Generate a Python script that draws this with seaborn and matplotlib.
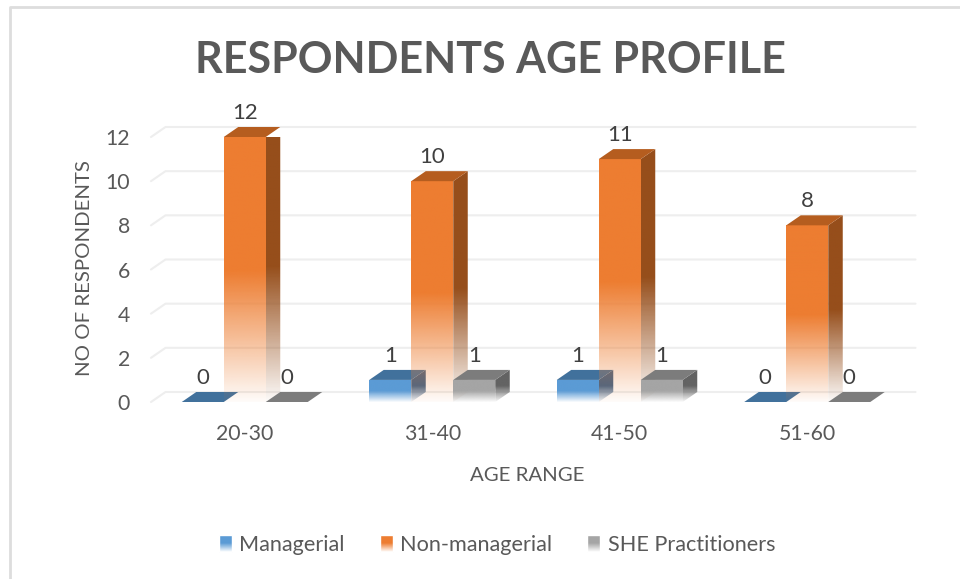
import numpy as np
import pandas as pd
import matplotlib
matplotlib.use('Agg')
import matplotlib.pyplot as plt
from matplotlib.image import BboxImage
from matplotlib.lines import Line2D
from matplotlib.patches import Patch, Polygon
from matplotlib.colors import to_rgb
import seaborn as sns

age_ranges = ['20-30', '31-40', '41-50', '51-60']
managerial = [0, 1, 1, 0]
non_managerial = [12, 10, 11, 8]
she_practitioners = [0, 1, 1, 0]
series_names = ['Managerial', 'Non-managerial', 'SHE Practitioners']
y_ticks = [0, 2, 4, 6, 8, 10, 12]

front_colors = ['#5B9BD5', '#ED7D31', '#A5A5A5']
top_colors = ['#41719C', '#B55D1F', '#7C7C7C']
side_colors = ['#3F6388', '#964E1B', '#636363']

df = pd.DataFrame({
    'age': age_ranges * 3,
    'series': np.repeat(series_names, 4),
    'count': managerial + non_managerial + she_practitioners,
})

sns.set_theme(style='white')
plt.rcParams['font.family'] = ['Lato', 'DejaVu Sans']

W, H = 960, 579
fig = plt.figure(figsize=(W / 100, H / 100), dpi=100)
ax = fig.add_axes([151 / W, (H - 402) / H, 750 / W, 265 / H])
ax.patch.set_alpha(0)

sns.barplot(data=df, x='age', y='count', hue='series', hue_order=series_names,
            palette=front_colors, width=0.672, gap=0, legend=False, ax=ax)
ax.set_xlim(-0.5, 3.5)
ax.set_ylim(0, 12)

# depth of the fake 3d boxes in data units
DX = 14.5 / 187.5
DY = 10 / 22.08

for y in y_ticks:
    ax.plot([-0.5, -0.5 + DX, 3.5 + DX], [y, y + DY, y + DY], color='#EEEEEE',
            lw=1.5, clip_on=False, zorder=1)


def fade(color, size=200):
    # solid in the upper half, nearly gone at the bottom
    a = np.clip(np.linspace(2.0, 0.03, size), 0.03, 1.0)
    img = np.ones((size, 1, 4))
    img[:, :, :3] = to_rgb(color)
    img[:, 0, 3] = a
    return img


for i, cont in enumerate(ax.containers):
    z = 3 + i
    for bar in cont:
        x0, w, h = bar.get_x(), bar.get_width(), bar.get_height()
        x1 = x0 + w
        bar.set_facecolor('none')
        bar.set_edgecolor('none')
        bar.set_zorder(z)
        if h > 0:
            im = ax.imshow(fade(front_colors[i]), extent=(x0, x1, 0, h), aspect='auto', zorder=z)
            im.set_clip_path(bar)
            side = Polygon([(x1, 0), (x1 + DX, DY), (x1 + DX, h + DY), (x1, h)],
                           facecolor='none', edgecolor='none', clip_on=False)
            ax.add_patch(side)
            im2 = ax.imshow(fade(side_colors[i]), extent=(x1, x1 + DX, 0, h + DY), aspect='auto', zorder=z)
            im2.set_clip_path(side)
        ax.add_patch(Polygon([(x0, h), (x1, h), (x1 + DX, h + DY), (x0 + DX, h + DY)],
                             facecolor=top_colors[i], edgecolor='none', clip_on=False, zorder=z))
    ax.bar_label(cont, padding=10, fontsize=16, color='#404040', zorder=10)

ax.set_xlim(-0.5, 3.5)
ax.set_ylim(0, 12)
sns.despine(ax=ax, left=True, bottom=True)

ax.set_yticks(y_ticks)
ax.set_xticks(range(4), age_ranges)
ax.tick_params(axis='y', length=0, pad=15, labelsize=15.3, labelcolor='#595959')
ax.tick_params(axis='x', length=0, pad=16, labelsize=15.3, labelcolor='#595959')
ax.set_xlabel('AGE RANGE', fontsize=14.7, color='#595959')
ax.set_ylabel('NO OF RESPONDENTS', fontsize=14.7, color='#595959')
ax.xaxis.set_label_coords(0.501, -0.245)
ax.yaxis.set_label_coords(-0.078, 0.505)

fig.text(490 / W, 1 - 60 / H, 'RESPONDENTS AGE PROFILE', ha='center', va='center',
         fontsize=31, fontweight='bold', color='#595959')

handles = [Patch(facecolor=c, label=n) for c, n in zip(front_colors, series_names)]
leg = fig.legend(handles=handles, loc='center', bbox_to_anchor=(497 / W, 1 - 545 / H), ncol=3,
                 frameon=False, fontsize=15.6, labelcolor='#595959', handlelength=0.6,
                 handleheight=0.85, handletextpad=0.35, columnspacing=1.6)

# chart area border, only left and top are in the picture
fig.add_artist(Line2D([10 / W, 10 / W, 1], [0, 1 - 7 / H, 1 - 7 / H], color='#DDDDDD', lw=2))

# legend swatches fade at the bottom too
fig.canvas.draw()
for p in leg.get_patches():
    white = np.ones((50, 1, 4))
    white[:, 0, 3] = np.clip(np.linspace(-1.0, 1.0, 50), 0, 1)
    fig.add_artist(BboxImage(p.get_window_extent(), data=white, zorder=20))

fig.savefig('out.png', dpi=100)
